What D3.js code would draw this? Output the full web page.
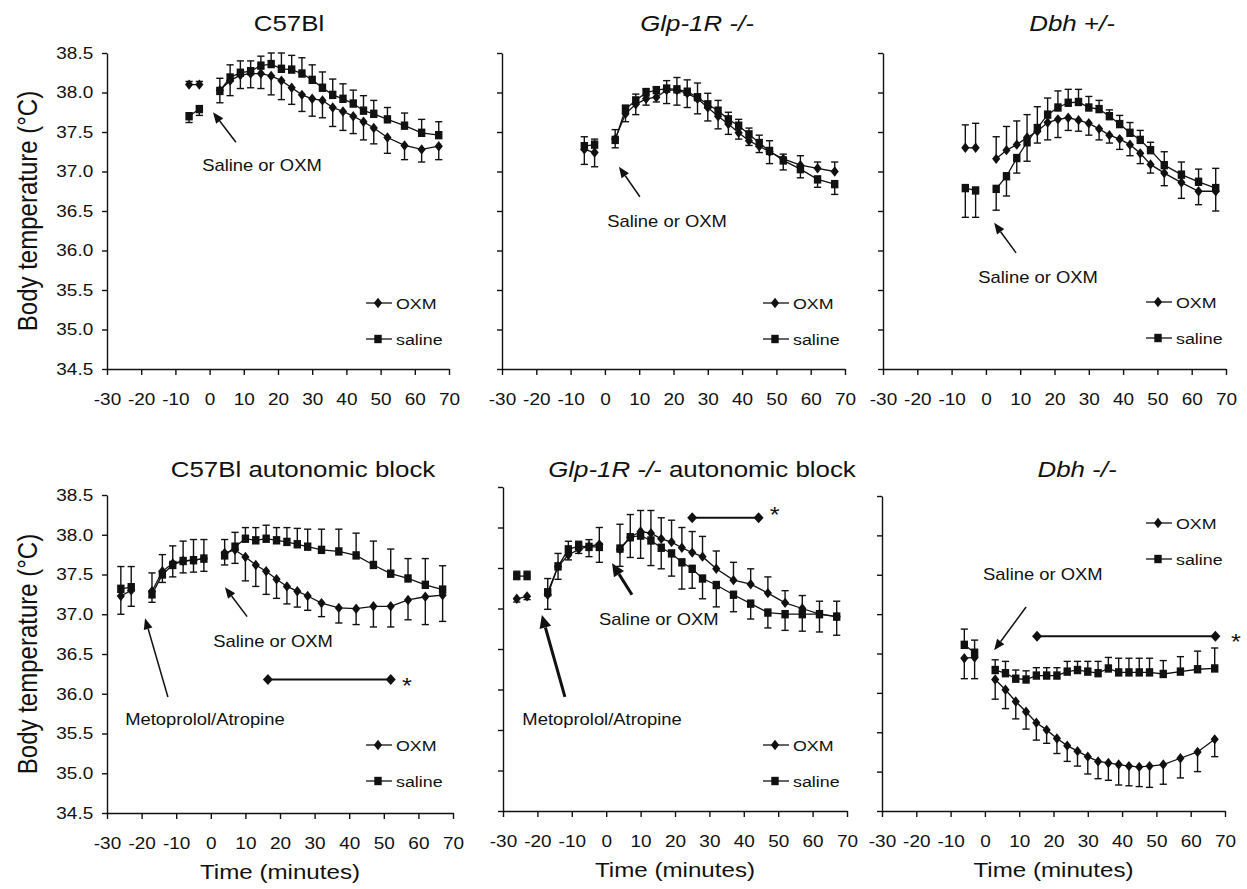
<!DOCTYPE html>
<html>
<head>
<meta charset="utf-8">
<title>Body temperature after OXM</title>
<script src="https://d3js.org/d3.v7.min.js"></script>
<style>
    body { margin: 0; background: #fff; }
    svg text { font-family: "Liberation Sans", Arial, sans-serif; fill: #111; }
</style>
</head>
<body>
<div id="chart"></div>
<script>
// sampling times (minutes)
var timesA = [-6, -3, 3, 6, 9, 12, 15, 18, 21, 24, 27, 30, 33, 36, 39, 42, 45, 48, 52, 57, 62, 67];
var timesB = [-26, -23, -17, -14, -11, -8, -5, -2, 4, 7, 10, 13, 16, 19, 22, 25, 28, 32, 37, 42, 47, 52, 57, 62, 67];
var xTicks = [-30, -20, -10, 0, 10, 20, 30, 40, 50, 60, 70];
var yTicks = [34.5, 35, 35.5, 36, 36.5, 37, 37.5, 38, 38.5];

// C57Bl
var c57Oxm    = [38.10, 38.10, 38.03, 38.15, 38.22, 38.24, 38.24, 38.21, 38.15, 38.06, 37.97, 37.92, 37.90, 37.81, 37.76, 37.70, 37.63, 37.55, 37.43, 37.33, 37.28, 37.32];
var c57OxmErr = [0.04, 0.04, 0.15, 0.19, 0.17, 0.18, 0.19, 0.24, 0.24, 0.21, 0.21, 0.22, 0.22, 0.24, 0.24, 0.22, 0.23, 0.20, 0.20, 0.18, 0.16, 0.17];
var c57Sal    = [37.70, 37.79, 38.02, 38.19, 38.25, 38.27, 38.34, 38.36, 38.30, 38.29, 38.24, 38.16, 38.06, 37.97, 37.92, 37.86, 37.77, 37.73, 37.66, 37.58, 37.49, 37.46];
var c57SalErr = [0.08, 0.08, 0.15, 0.16, 0.15, 0.13, 0.12, 0.14, 0.20, 0.18, 0.20, 0.19, 0.20, 0.20, 0.19, 0.17, 0.19, 0.17, 0.15, 0.16, 0.17, 0.17];

// Glp-1R -/-
var glpOxm    = [37.28, 37.24, 37.41, 37.73, 37.85, 37.92, 37.94, 38.03, 38.03, 37.99, 37.92, 37.81, 37.70, 37.60, 37.49, 37.39, 37.32, 37.25, 37.16, 37.08, 37.04, 37.00];
var glpOxmErr = [0.19, 0.18, 0.12, 0.10, 0.13, 0.08, 0.06, 0.17, 0.19, 0.18, 0.19, 0.17, 0.16, 0.13, 0.08, 0.06, 0.08, 0.15, 0.06, 0.12, 0.08, 0.12];
var glpSal    = [37.32, 37.34, 37.40, 37.79, 37.90, 38.00, 38.03, 38.05, 38.04, 38.01, 37.94, 37.85, 37.77, 37.66, 37.58, 37.47, 37.36, 37.26, 37.14, 37.03, 36.90, 36.84];
var glpSalErr = [0.12, 0.07, 0.10, 0.05, 0.08, 0.05, 0.04, 0.10, 0.15, 0.15, 0.18, 0.14, 0.13, 0.09, 0.08, 0.08, 0.10, 0.13, 0.12, 0.11, 0.10, 0.13];

// Dbh +/-
var dbhHetOxm    = [37.30, 37.30, 37.16, 37.27, 37.34, 37.43, 37.51, 37.62, 37.66, 37.68, 37.65, 37.61, 37.54, 37.46, 37.41, 37.34, 37.23, 37.09, 36.98, 36.86, 36.75, 36.75];
var dbhHetOxmErr = [0.29, 0.31, 0.28, 0.30, 0.30, 0.29, 0.15, 0.22, 0.23, 0.16, 0.14, 0.15, 0.14, 0.10, 0.13, 0.14, 0.13, 0.11, 0.16, 0.20, 0.17, 0.25];
var dbhHetSal    = [36.79, 36.76, 36.78, 36.94, 37.17, 37.37, 37.55, 37.72, 37.81, 37.87, 37.88, 37.81, 37.79, 37.70, 37.60, 37.49, 37.40, 37.27, 37.08, 36.96, 36.87, 36.79];
var dbhHetSalErr = [0.37, 0.34, 0.27, 0.25, 0.19, 0.24, 0.27, 0.21, 0.21, 0.17, 0.16, 0.14, 0.11, 0.08, 0.11, 0.13, 0.12, 0.10, 0.17, 0.16, 0.16, 0.25];

// C57Bl autonomic block
var c57BlkOxm    = [37.23, 37.30, 37.29, 37.54, 37.64, 37.67, 37.68, 37.70, 37.77, 37.81, 37.72, 37.62, 37.54, 37.44, 37.35, 37.29, 37.23, 37.14, 37.08, 37.07, 37.10, 37.10, 37.18, 37.22, 37.24];
var c57BlkOxmErr = [0.23, 0.20, 0.23, 0.21, 0.22, 0.15, 0.15, 0.16, 0.17, 0.17, 0.30, 0.27, 0.29, 0.24, 0.22, 0.20, 0.18, 0.17, 0.19, 0.20, 0.26, 0.26, 0.25, 0.35, 0.33];
var c57BlkSal    = [37.32, 37.34, 37.25, 37.50, 37.62, 37.67, 37.68, 37.70, 37.74, 37.85, 37.95, 37.93, 37.95, 37.93, 37.91, 37.88, 37.85, 37.81, 37.79, 37.74, 37.62, 37.51, 37.45, 37.37, 37.31];
var c57BlkSalErr = [0.28, 0.26, 0.10, 0.10, 0.15, 0.25, 0.26, 0.24, 0.12, 0.18, 0.14, 0.16, 0.17, 0.16, 0.18, 0.20, 0.22, 0.26, 0.28, 0.28, 0.30, 0.31, 0.25, 0.33, 0.30];

// Glp-1R -/- autonomic block
var glpBlkOxm    = [37.12, 37.15, 37.17, 37.52, 37.66, 37.73, 37.77, 37.79, 37.73, 37.88, 37.95, 37.93, 37.86, 37.82, 37.75, 37.69, 37.64, 37.49, 37.35, 37.30, 37.19, 37.07, 37.00, 36.93, 36.90];
var glpBlkOxmErr = [0.04, 0.04, 0.18, 0.16, 0.06, 0.05, 0.08, 0.21, 0.21, 0.25, 0.26, 0.28, 0.26, 0.27, 0.25, 0.26, 0.25, 0.22, 0.22, 0.19, 0.20, 0.15, 0.16, 0.22, 0.23];
var glpBlkSal    = [37.40, 37.40, 37.20, 37.52, 37.73, 37.77, 37.76, 37.76, 37.74, 37.88, 37.90, 37.84, 37.75, 37.68, 37.57, 37.49, 37.37, 37.29, 37.17, 37.06, 36.95, 36.93, 36.93, 36.93, 36.90];
var glpBlkSalErr = [0.06, 0.06, 0.17, 0.16, 0.10, 0.06, 0.12, 0.19, 0.30, 0.28, 0.28, 0.31, 0.26, 0.28, 0.33, 0.24, 0.25, 0.27, 0.21, 0.19, 0.19, 0.20, 0.21, 0.16, 0.19];

// Dbh -/-
var dbhKoOxm    = [36.44, 36.45, 36.17, 36.04, 35.89, 35.76, 35.62, 35.53, 35.42, 35.33, 35.26, 35.19, 35.13, 35.11, 35.09, 35.07, 35.06, 35.07, 35.09, 35.17, 35.25, 35.41];
var dbhKoOxmErr = [0.26, 0.27, 0.25, 0.24, 0.22, 0.22, 0.22, 0.17, 0.19, 0.20, 0.19, 0.22, 0.22, 0.22, 0.26, 0.25, 0.25, 0.27, 0.25, 0.25, 0.25, 0.22];
var dbhKoSal    = [36.61, 36.51, 36.29, 36.25, 36.18, 36.17, 36.22, 36.22, 36.22, 36.27, 36.29, 36.27, 36.25, 36.31, 36.26, 36.26, 36.26, 36.26, 36.24, 36.27, 36.30, 36.31];
var dbhKoSalErr = [0.20, 0.16, 0.13, 0.15, 0.11, 0.11, 0.10, 0.10, 0.10, 0.13, 0.11, 0.13, 0.15, 0.14, 0.18, 0.18, 0.18, 0.18, 0.17, 0.19, 0.23, 0.26];

var width = 1247, height = 889;
var SX = 1.15;   // the scanned figure is a bit wider than tall
var ink = "#111";

// annotations are placed in data units (minutes, degC)
var panels = [
    { title: [["C57Bl", false]], tx: 289, ty: 31,
      x: 107, y: 53, w: 342, h: 316, t: timesA,
      oxm: c57Oxm, oxmErr: c57OxmErr, sal: c57Sal, salErr: c57SalErr,
      yLab: true, xLab: false, legend: [259, 250],
      arrows: [{ from: [7.7, 37.37], to: [1.0, 37.75], bold: false }],
      notes: [{ at: [15.3, 37.01], text: "Saline or OXM" }],
      sig: null },
    { title: [["Glp-1R -/-", true]], tx: 697, ty: 31,
      x: 502, y: 53, w: 343, h: 316, t: timesA,
      oxm: glpOxm, oxmErr: glpOxmErr, sal: glpSal, salErr: glpSalErr,
      yLab: false, xLab: false, legend: [261, 250],
      arrows: [{ from: [10.2, 36.68], to: [4.1, 37.06], bold: false }],
      notes: [{ at: [18.1, 36.30], text: "Saline or OXM" }],
      sig: null },
    { title: [["Dbh +/-", true]], tx: 1072, ty: 31,
      x: 883, y: 53, w: 343, h: 316, t: timesA,
      oxm: dbhHetOxm, oxmErr: dbhHetOxmErr, sal: dbhHetSal, salErr: dbhHetSalErr,
      yLab: false, xLab: false, legend: [263, 249],
      arrows: [{ from: [8.8, 35.97], to: [2.4, 36.35], bold: false }],
      notes: [{ at: [15.2, 35.59], text: "Saline or OXM" }],
      sig: null },
    { title: [["C57Bl autonomic block", false]], tx: 303, ty: 477,
      x: 107, y: 495, w: 346, h: 318, t: timesB,
      oxm: c57BlkOxm, oxmErr: c57BlkOxmErr, sal: c57BlkSal, salErr: c57BlkSalErr,
      yLab: true, xLab: true, legend: [259, 250],
      arrows: [{ from: [-12.4, 35.96], to: [-19.0, 36.95], bold: false },
               { from: [10.5, 36.97], to: [4.1, 37.34], bold: false }],
      notes: [{ at: [-1.7, 35.61], text: "Metoprolol/Atropine" },
              { at: [18.0, 36.59], text: "Saline or OXM" }],
      sig: { from: 16.5, to: 52, at: 36.18, star: [56.7, 36.16] } },
    { title: [["Glp-1R -/-", true], [" autonomic block", false]], tx: 702, ty: 477,
      x: 503, y: 487, w: 344, h: 324, t: timesB,
      oxm: glpBlkOxm, oxmErr: glpBlkOxmErr, sal: glpBlkSal, salErr: glpBlkSalErr,
      yLab: false, xLab: true, legend: [260, 258],
      arrows: [{ from: [-12.0, 35.91], to: [-18.7, 36.92], bold: true },
               { from: [7.5, 37.17], to: [1.7, 37.56], bold: true }],
      notes: [{ at: [-1.2, 35.56], text: "Metoprolol/Atropine" },
              { at: [15.3, 36.80], text: "Saline or OXM" }],
      sig: { from: 25, to: 44.3, at: 38.12, star: [49.0, 38.22] } },
    { title: [["Dbh -/-", true]], tx: 1077, ty: 477,
      x: 882, y: 496, w: 343, h: 315, t: timesA,
      oxm: dbhKoOxm, oxmErr: dbhKoOxmErr, sal: dbhKoSal, salErr: dbhKoSalErr,
      yLab: false, xLab: true, legend: [264, 27],
      arrows: [{ from: [12.0, 37.09], to: [2.7, 36.54], bold: false }],
      notes: [{ at: [16.9, 37.43], text: "Saline or OXM" }],
      sig: { from: 15.2, to: 67.2, at: 36.72, star: [73.2, 36.71] } }
];

var svg = d3.select("#chart").append("svg")
    .attr("width", width)
    .attr("height", height);

function diamondPath(hw, hh) {
    return "M0," + (-hh) + "L" + hw + ",0L0," + hh + "L" + (-hw) + ",0Z";
}

function drawMarker(g, shape, cx, cy) {
    if (shape === "square") {
        g.append("rect")
            .attr("x", cx - 3.7).attr("y", cy - 4.2)
            .attr("width", 7.4).attr("height", 8.4)
            .attr("fill", ink);
    } else {
        g.append("path")
            .attr("d", diamondPath(4.1, 5.2))
            .attr("transform", "translate(" + cx + "," + cy + ")")
            .attr("fill", ink);
    }
}

function stretchedText(g, x, y, str, size, anchor) {
    return g.append("text")
        .attr("transform", "translate(" + x + "," + y + ") scale(" + SX + ",1)")
        .attr("text-anchor", anchor)
        .style("font-size", size + "px")
        .text(str);
}

function arrow(g, x1, y1, x2, y2, bold) {
    var sw = bold ? 3 : 1.5, hl = bold ? 13 : 11, hw = bold ? 6 : 4.5;
    var dx = x2 - x1, dy = y2 - y1, L = Math.hypot(dx, dy);
    var ux = dx / L, uy = dy / L;
    var bx = x2 - ux * hl, by = y2 - uy * hl;
    g.append("line")
        .attr("x1", x1).attr("y1", y1).attr("x2", bx).attr("y2", by)
        .attr("stroke", ink).attr("stroke-width", sw);
    g.append("path")
        .attr("d", "M" + x2 + "," + y2 +
                   "L" + (bx - uy * hw) + "," + (by + ux * hw) +
                   "L" + (bx + uy * hw) + "," + (by - ux * hw) + "Z")
        .attr("fill", ink);
}

// break the line where there is a gap in sampling
function segments(times, vals) {
    var segs = [], cur = [];
    times.forEach(function(t, i) {
        if (cur.length && t - times[i - 1] > 5) { segs.push(cur); cur = []; }
        cur.push([t, vals[i]]);
    });
    segs.push(cur);
    return segs;
}

panels.forEach(function(p) {
    var x = d3.scaleLinear().domain([-30, 70]).range([0, p.w]);
    var y = d3.scaleLinear().domain([34.5, 38.5]).range([p.h, 0]);
    var g = svg.append("g").attr("transform", "translate(" + p.x + "," + p.y + ")");

    // axes
    var gx = g.append("g")
        .attr("transform", "translate(0," + p.h + ")")
        .call(d3.axisBottom(x).tickValues(xTicks).tickSize(6).tickSizeOuter(0)
            .tickPadding(18).tickFormat(function(d) { return String(d); }));
    var gy = g.append("g")
        .call(d3.axisLeft(y).tickValues(yTicks).tickSize(5).tickSizeOuter(0)
            .tickPadding(7).tickFormat(p.yLab ? d3.format(".1f") : ""));
    [gx, gy].forEach(function(a) {
        a.select(".domain").attr("stroke", ink).attr("stroke-width", 1.4);
        a.selectAll(".tick line").attr("stroke", ink).attr("stroke-width", 1.4);
        a.selectAll(".tick text")
            .style("font-size", "16.5px")
            .attr("transform", "scale(" + SX + ",1)");
    });

    // title
    var title = g.append("text")
        .attr("transform", "translate(" + (p.tx - p.x) + "," + (p.ty - p.y) + ") scale(" + SX + ",1)")
        .attr("text-anchor", "middle")
        .style("font-size", "22.5px");
    p.title.forEach(function(part) {
        title.append("tspan").text(part[0]).style("font-style", part[1] ? "italic" : "normal");
    });

    if (p.yLab) {
        g.append("text")
            .attr("transform", "translate(-70," + (p.h / 2) + ") rotate(-90) scale(1," + SX + ")")
            .attr("text-anchor", "middle")
            .style("font-size", "24px")
            .text("Body temperature (\u00B0C)");
    }
    if (p.xLab) {
        stretchedText(g, p.w / 2, p.h + 66, "Time (minutes)", 21, "middle");
    }

    // series: error bars point away from the other group
    var series = [
        { vals: p.sal, errs: p.salErr, other: p.oxm, sal: true, shape: "square" },
        { vals: p.oxm, errs: p.oxmErr, other: p.sal, sal: false, shape: "diamond" }
    ];
    var line = d3.line().x(function(d) { return x(d[0]); }).y(function(d) { return y(d[1]); });

    series.forEach(function(s) {
        s.vals.forEach(function(v, i) {
            var o = s.other[i];
            var up = s.sal ? v >= o : v > o;
            var end = up ? v + s.errs[i] : v - s.errs[i];
            var cx = x(p.t[i]);
            g.append("line")
                .attr("x1", cx).attr("x2", cx).attr("y1", y(v)).attr("y2", y(end))
                .attr("stroke", ink).attr("stroke-width", 1.4);
            g.append("line")
                .attr("x1", cx - 3.6).attr("x2", cx + 3.6).attr("y1", y(end)).attr("y2", y(end))
                .attr("stroke", ink).attr("stroke-width", 1.4);
        });
    });
    series.forEach(function(s) {
        segments(p.t, s.vals).forEach(function(seg) {
            g.append("path")
                .attr("d", line(seg))
                .attr("fill", "none")
                .attr("stroke", ink)
                .attr("stroke-width", 1.3);
        });
    });
    series.forEach(function(s) {
        s.vals.forEach(function(v, i) {
            drawMarker(g, s.shape, x(p.t[i]), y(v));
        });
    });

    // legend
    var lg = g.append("g").attr("transform", "translate(" + p.legend[0] + "," + p.legend[1] + ")");
    [["OXM", "diamond"], ["saline", "square"]].forEach(function(item, i) {
        var ly = i * 36;
        lg.append("line")
            .attr("x1", 0).attr("x2", 26).attr("y1", ly).attr("y2", ly)
            .attr("stroke", ink).attr("stroke-width", 1.3);
        drawMarker(lg, item[1], 12, ly);
        stretchedText(lg, 30, ly + 5.5, item[0], 15.5, "start");
    });

    // arrows and notes
    p.arrows.forEach(function(a) {
        arrow(g, x(a.from[0]), y(a.from[1]), x(a.to[0]), y(a.to[1]), a.bold);
    });
    p.notes.forEach(function(n) {
        stretchedText(g, x(n.at[0]), y(n.at[1]), n.text, 16, "middle");
    });

    // significance bar
    if (p.sig) {
        g.append("line")
            .attr("x1", x(p.sig.from)).attr("x2", x(p.sig.to))
            .attr("y1", y(p.sig.at)).attr("y2", y(p.sig.at))
            .attr("stroke", ink).attr("stroke-width", 2);
        [p.sig.from, p.sig.to].forEach(function(t) {
            g.append("path")
                .attr("d", diamondPath(5, 5.5))
                .attr("transform", "translate(" + x(t) + "," + y(p.sig.at) + ")")
                .attr("fill", ink);
        });
        stretchedText(g, x(p.sig.star[0]), y(p.sig.star[1]) + 12, "*", 22, "middle");
    }
});
</script>
</body>
</html>
